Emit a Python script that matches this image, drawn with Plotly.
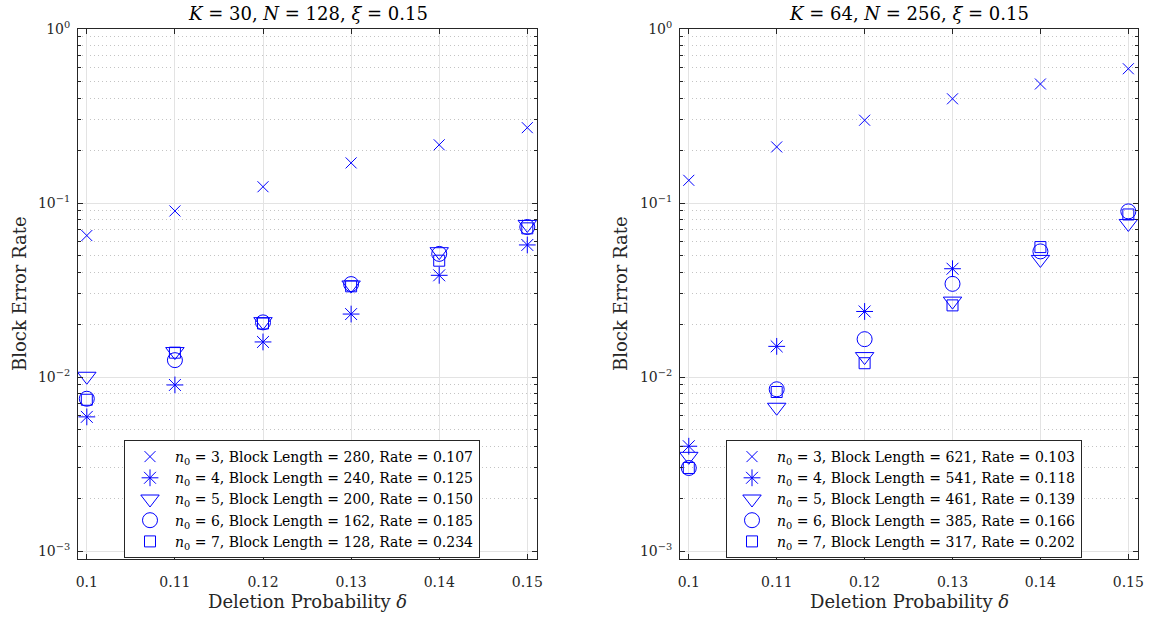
import plotly.graph_objects as go

# deletion probabilities (x axis)
delta = [0.10, 0.11, 0.12, 0.13, 0.14, 0.15]

# left panel: K = 30, N = 128, xi = 0.15
left_n3 = [0.065, 0.090, 0.124, 0.170, 0.216, 0.271]
left_n4 = [0.0059, 0.0090, 0.0159, 0.0230, 0.0384, 0.0574]
left_n5 = [0.0101, 0.0140, 0.0208, 0.0338, 0.0525, 0.0753]
left_n6 = [0.0075, 0.0125, 0.0206, 0.0342, 0.0510, 0.0728]
left_n7 = [0.0074, 0.0138, 0.0203, 0.0332, 0.0466, 0.0715]
left_names = [
    "<i>n</i><sub>0</sub> = 3, Block Length = 280, Rate = 0.107",
    "<i>n</i><sub>0</sub> = 4, Block Length = 240, Rate = 0.125",
    "<i>n</i><sub>0</sub> = 5, Block Length = 200, Rate = 0.150",
    "<i>n</i><sub>0</sub> = 6, Block Length = 162, Rate = 0.185",
    "<i>n</i><sub>0</sub> = 7, Block Length = 128, Rate = 0.234",
]

# right panel: K = 64, N = 256, xi = 0.15
right_n3 = [0.135, 0.210, 0.299, 0.397, 0.483, 0.591]
right_n4 = [0.0040, 0.0150, 0.0238, 0.0419, None, None]
right_n5 = [0.0035, 0.0067, 0.0131, 0.0273, 0.0474, 0.0763]
right_n6 = [0.0030, 0.0085, 0.0165, 0.0343, 0.0527, 0.0895]
right_n7 = [0.0030, 0.0082, 0.0120, 0.0258, 0.0558, 0.0859]
right_names = [
    "<i>n</i><sub>0</sub> = 3, Block Length = 621, Rate = 0.103",
    "<i>n</i><sub>0</sub> = 4, Block Length = 541, Rate = 0.118",
    "<i>n</i><sub>0</sub> = 5, Block Length = 461, Rate = 0.139",
    "<i>n</i><sub>0</sub> = 6, Block Length = 385, Rate = 0.166",
    "<i>n</i><sub>0</sub> = 7, Block Length = 317, Rate = 0.202",
]

titles = ["<i>K</i> = 30, <i>N</i> = 128, <i>ξ</i> = 0.15",
          "<i>K</i> = 64, <i>N</i> = 256, <i>ξ</i> = 0.15"]

x_ticks = [0.1, 0.11, 0.12, 0.13, 0.14, 0.15]
x_ticktext = ["0.1", "0.11", "0.12", "0.13", "0.14", "0.15"]
y_ticks = [0.001, 0.01, 0.1, 1]
y_ticktext = ["10<sup>−3</sup>", "10<sup>−2</sup>", "10<sup>−1</sup>", "10<sup>0</sup>"]

FONT = "DejaVu Serif"
INK = "#262626"
BLUE = "#0000ff"
markers = [
    dict(symbol="x-thin-open", size=11),
    dict(symbol="asterisk-open", size=14),
    dict(symbol="triangle-down-open", size=16),
    dict(symbol="circle-open", size=15),
    dict(symbol="square-open", size=11),
]

fig = go.Figure()

panels = [
    ("x", "y", "legend", [left_n3, left_n4, left_n5, left_n6, left_n7], left_names),
    ("x2", "y2", "legend2", [right_n3, right_n4, right_n5, right_n6, right_n7], right_names),
]
for xa, ya, lg, series, names in panels:
    for vals, name, mk in zip(series, names, markers):
        fig.add_trace(go.Scatter(
            x=delta, y=vals, mode="markers", name=name,
            xaxis=xa, yaxis=ya, legend=lg,
            marker=dict(symbol=mk["symbol"], size=mk["size"], color=BLUE,
                        line=dict(color=BLUE, width=1)),
        ))

W, H = 1151, 619


def px(x):
    return x / W


def py(y):
    return 1 - y / H


left_dom = [px(78), px(537)]
right_dom = [px(680), px(1138)]
y_dom = [py(559), py(29)]

xaxis_style = dict(
    range=[0.099, 0.1511], tickvals=x_ticks, ticktext=x_ticktext,
    showline=True, linecolor=INK, linewidth=1, mirror="ticks",
    ticks="inside", ticklen=5, tickcolor=INK, ticklabelstandoff=10,
    showgrid=True, gridcolor="#e3e3e3", gridwidth=1, zeroline=False,
    tickfont=dict(family=FONT, size=14, color=INK), automargin=False,
)
yaxis_style = dict(
    type="log", range=[-3.046, 0], tickvals=y_ticks, ticktext=y_ticktext,
    showline=True, linecolor=INK, linewidth=1, mirror="ticks",
    ticks="inside", ticklen=5, tickcolor=INK, ticklabelstandoff=4,
    showgrid=True, gridcolor="#e3e3e3", gridwidth=1, zeroline=False,
    tickfont=dict(family=FONT, size=14, color=INK), automargin=False,
    minor=dict(dtick="D1", ticks="inside", ticklen=3, tickcolor=INK,
               showgrid=True, gridcolor="#c4c4c4", griddash="1px,3px", gridwidth=1),
)

legend_style = dict(
    bgcolor="white", bordercolor=INK, borderwidth=1,
    font=dict(family=FONT, size=14, color="black"),
    xanchor="left", yanchor="top", tracegroupgap=0, itemsizing="trace",
    itemwidth=40,
)

fig.update_layout(
    width=W, height=H,
    margin=dict(l=0, r=0, t=0, b=0, autoexpand=False),
    paper_bgcolor="white", plot_bgcolor="white",
    font=dict(family=FONT, color="black"),
    xaxis=dict(xaxis_style, domain=left_dom, anchor="y"),
    yaxis=dict(yaxis_style, domain=y_dom, anchor="x"),
    xaxis2=dict(xaxis_style, domain=right_dom, anchor="y2"),
    yaxis2=dict(yaxis_style, domain=y_dom, anchor="x2"),
    legend=dict(legend_style, x=px(124), y=py(440)),
    legend2=dict(legend_style, x=px(726), y=py(440)),
)

# titles and axis labels
for dom, title in zip([left_dom, right_dom], titles):
    cx = (dom[0] + dom[1]) / 2
    fig.add_annotation(text=title, x=cx, y=py(13), xref="paper", yref="paper",
                       xanchor="center", yanchor="middle", showarrow=False,
                       font=dict(family=FONT, size=18, color="black"))
    fig.add_annotation(text="Deletion Probability <i>δ</i>", x=cx, y=py(601),
                       xref="paper", yref="paper", xanchor="center", yanchor="middle",
                       showarrow=False, font=dict(family=FONT, size=18, color=INK))
for lx in [19, 620]:
    fig.add_annotation(text="Block Error Rate", x=px(lx), y=py(294),
                       xref="paper", yref="paper", xanchor="center", yanchor="middle",
                       showarrow=False, textangle=-90,
                       font=dict(family=FONT, size=18, color=INK))

# drop the default body margin so the figure sits at the window corner
fig.write_html("out.html", config={"displayModeBar": False},
               post_script="document.body.style.margin='0';")
